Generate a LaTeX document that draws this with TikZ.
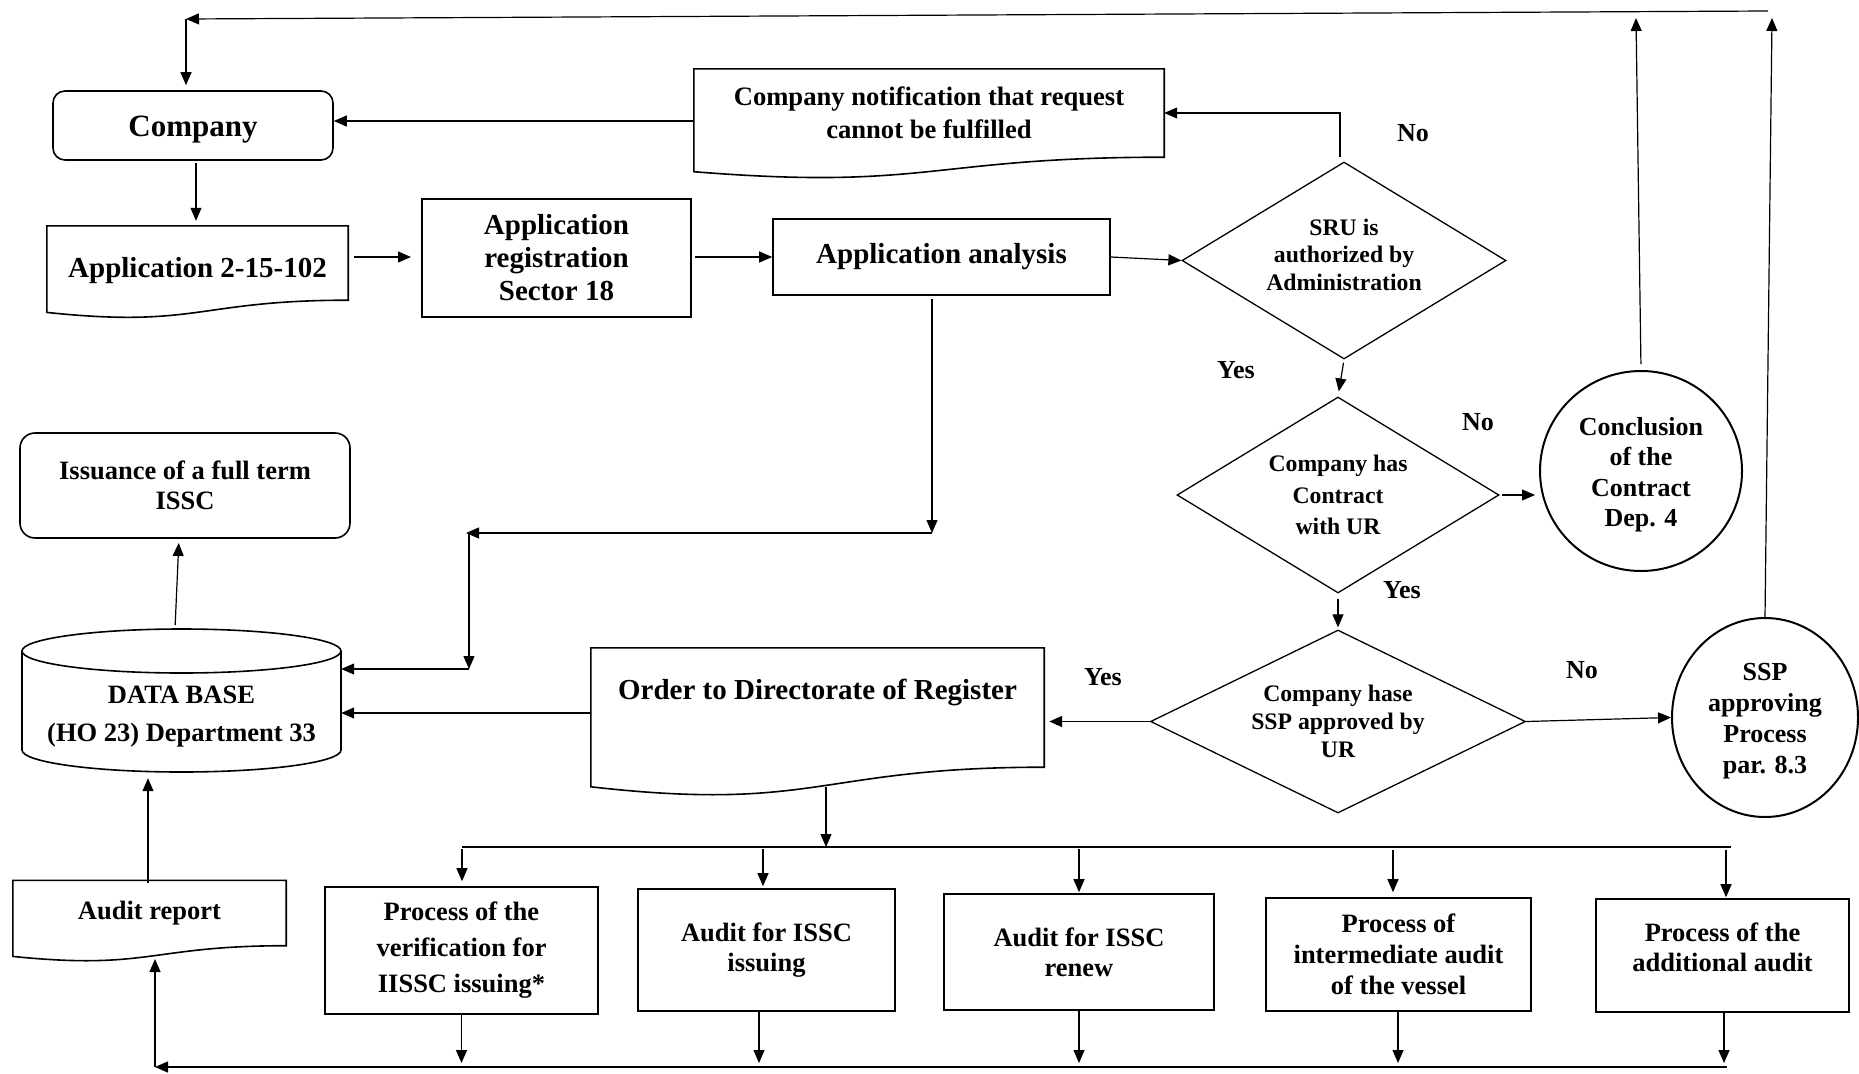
\documentclass[tikz,border=0pt]{standalone}
\usepackage{fontspec}
\setmainfont{Liberation Serif}
\usetikzlibrary{arrows.meta,shapes.geometric,calc}
\newcommand{\mydocshape}[3]{%
  \draw[box] (#1.south east) -- (#1.north east) -- (#1.north west) -- ($(#1.south west)+(0,#2)$)
    .. controls ($(#1.south)+(0,#3)$) and (#1.south) .. cycle;}
\newcommand{\mytl}[2]{\raisebox{#1}[\height][\depth]{\begin{tabular}{@{}c@{}}#2\end{tabular}}}
\tikzset{
  box/.style={draw, line width=1.6pt, inner sep=0pt, align=center},
  plain/.style={inner sep=0pt, align=center},
  dia/.style={draw, diamond, line width=1.3pt, inner sep=0pt, align=center},
  circ/.style={draw, ellipse, line width=2pt, inner sep=0pt, align=center},
  conn/.style={line width=1.2pt},
  arr/.style={conn, -{Triangle[length=13pt,width=11pt]}},
  fA/.style={font=\fontsize{31}{36}\selectfont\bfseries},
  fB/.style={font=\fontsize{29}{33}\selectfont\bfseries},
  fC/.style={font=\fontsize{26.5}{30}\selectfont\bfseries},
  lab/.style={font=\fontsize{26}{30}\selectfont\bfseries, inner sep=0pt},
}
\begin{document}
\begin{tikzpicture}[x=1pt,y=-1pt]
\useasboundingbox (0,0) rectangle (1859,1073);

% ---- nodes ----
\node[box, fA, rounded corners=12pt, minimum width=280pt, minimum height=69pt] (company) at (193,125.5) {\mytl{-3.5pt}{Company}};
\node[plain, fB, minimum width=301pt, minimum height=74pt] (app) at (197.5,263) {\mytl{-8pt}{Application 2-15-102}};
\mydocshape{app}{12.2}{28.2}
\node[box, fB, minimum width=269pt, minimum height=118pt] (reg) at (556.5,258) {Application\\registration\\Sector 18};
\node[box, fB, minimum width=337pt, minimum height=76pt] (ana) at (941.5,257) {Application analysis};
\node[plain, font=\fontsize{26.6}{33}\selectfont\bfseries, minimum width=470pt, minimum height=88pt] (notif) at (929,113) {Company notification that request\\cannot be fulfilled};
\mydocshape{notif}{14.5}{33.5}

\node[dia, font=\fontsize{23.7}{27.5}\selectfont\bfseries, aspect=1.64, minimum width=324pt, minimum height=197pt] (sru) at (1344,260.5) {\mytl{3.5pt}{SRU is\\authorized by\\Administration}};
\node[dia, font=\fontsize{23.7}{31.5}\selectfont\bfseries, aspect=1.64, minimum width=322pt, minimum height=196pt] (contract) at (1338,495) {Company has\\Contract\\with UR};
\node[dia, font=\fontsize{23.7}{28}\selectfont\bfseries, aspect=2.05, minimum width=375pt, minimum height=183pt] (ssp) at (1338,721.5) {Company hase\\SSP approved by\\UR};

\node[circ, font=\fontsize{26}{30.5}\selectfont\bfseries, minimum width=202pt, minimum height=200pt] (concl) at (1641,471) {\mytl{-4pt}{Conclusion\\of the\\Contract\\Dep. 4}};
\node[circ, font=\fontsize{26}{31}\selectfont\bfseries, minimum width=186pt, minimum height=199pt] (sspc) at (1765,717.5) {\mytl{-3.5pt}{SSP\\approving\\Process\\par. 8.3}};

\node[box, fC, rounded corners=15pt, minimum width=330pt, minimum height=105pt] (issue) at (185,485.5) {Issuance of a full term\\ISSC};

% data base cylinder
\node[plain, minimum width=319pt, minimum height=143pt] (db) at (181.5,700.5) {};
\draw[box] (22,651) -- (22,750) arc[start angle=180, end angle=360, x radius=159.5pt, y radius=22pt] -- (341,651);
\draw[box] (181.5,651) ellipse [x radius=159.5pt, y radius=22pt];
\node[plain, fC] (dbtxt) at (181.5,717) {DATA BASE\\[8pt](HO 23) Department 33};

\node[plain, minimum width=453pt, minimum height=119pt] (order) at (817.5,707.5) {};
\mydocshape{order}{19.6}{45.3}
\node[plain, fB] (ordertxt) at (817.5,692) {Order to Directorate of Register};

\node[plain, fC, minimum width=273pt, minimum height=65pt] (audit) at (149.5,913) {Audit report};
\mydocshape{audit}{10.7}{24.7}

\node[box, font=\fontsize{26.5}{36}\selectfont\bfseries, minimum width=273pt, minimum height=127pt] (b1) at (461.5,950.5) {Process of the\\verification for\\IISSC issuing*};
\node[box, fC, minimum width=257pt, minimum height=122pt] (b2) at (766.5,950) {Audit for ISSC\\issuing};
\node[box, fC, minimum width=270pt, minimum height=116pt] (b3) at (1079,952) {Audit for ISSC\\renew};
\node[box, font=\fontsize{26.5}{31}\selectfont\bfseries, minimum width=265pt, minimum height=113pt] (b4) at (1398.5,954.5) {Process of\\intermediate audit\\of the vessel};
\node[box, fC, minimum width=253pt, minimum height=113pt] (b5) at (1722.5,955.5) {\mytl{5pt}{Process of the\\additional audit}};

% ---- labels ----
\node[lab] (no1) at (1413,133) {No};
\node[lab] (yes1) at (1236,370) {Yes};
\node[lab] (no2) at (1478,422) {No};
\node[lab] (yes2) at (1402,590) {Yes};
\node[lab] (no3) at (1582,670) {No};
\node[lab] (yes3) at (1103,677) {Yes};

% ---- coordinates ----
\coordinate (topR) at (1768,11);
\coordinate (topL) at (186,19);
\coordinate (conclT) at (1636,18);
\coordinate (sspcT) at (1772,18);
\coordinate (c1) at (932,533);
\coordinate (c2) at (469,533);
\coordinate (c2a) at (466,533);
\coordinate (c3) at (469,669);
\coordinate (orderb) at (826,787);
\coordinate (busc) at (826,847);
\coordinate (busL) at (462,847);
\coordinate (busR) at (1731,847);
\coordinate (bus2L) at (155,1067);
\coordinate (bus2R) at (1727,1067);
\coordinate (auditb) at (155,959);
\coordinate (ca) at (196,160);
\coordinate (appA) at (348,257);
\coordinate (regA) at (422,257);
\coordinate (regB) at (691,257);
\coordinate (notifA) at (694,121);
\coordinate (sruA) at (1340,162);
\coordinate (orderA) at (591,713);
\coordinate (dbA) at (175,629);
\coordinate (issueA) at (179,538);
\coordinate (auditA) at (148,883);
\coordinate (b2T) at (763,847);
\coordinate (b4T) at (1393,847);
\coordinate (b5T) at (1726,847);
\coordinate (b2B) at (759,1011);
\coordinate (b4B) at (1398,1011);
\coordinate (b5B) at (1724,1012);

% ---- connectors ----
\draw[arr] (topR) -- (topL);
\draw[arr, shorten >=5pt] (topL) -- (topL |- company.north);
\draw[arr, shorten <=3pt, shorten >=5pt] (ca) -- (ca |- app.north);
\draw[arr, shorten <=6pt, shorten >=11pt] (appA) -- (regA);
\draw[arr, shorten <=4pt] (regB) -- (ana.west);
\draw[arr] (ana.east) -- (sru.west);
\draw[arr] (notifA) -- (notifA -| company.east);
\draw[arr, shorten <=5pt] (sruA) |- (notif.east);
\draw[arr, shorten <=3pt, shorten >=5pt] (sru.south) -- (contract.north);
\draw[arr, shorten <=2pt, shorten >=4pt] (contract.east) -- (contract.east -| concl.west);
\draw[arr, shorten <=5pt, shorten >=2pt] (contract.south) -- (ssp.north);
\draw[arr] (ssp.east) -- (sspc.west);
\draw[arr, shorten >=5pt] (ssp.west) -- (ssp.west -| order.east);
\draw[arr, shorten <=6pt] (concl.north) -- (conclT);
\draw[arr] (sspc.north) -- (sspcT);

\draw[arr, shorten <=3pt] (ana.south -| c1) -- (c1);
\draw[arr] (c1) -- (c2a);
\draw[arr] (c2) -- (c3);
\draw[arr] (c3) -- (db.east |- c3);
\draw[arr] (orderA) -- (orderA -| db.east);
\draw[arr, shorten <=4pt, shorten >=5pt] (dbA) -- (issueA);
\draw[arr, shorten >=6pt] (auditA) -- (auditA |- db.south);

\draw[arr] (orderb) -- (busc);
\draw[conn] (busL) -- (busR);
\draw[arr, shorten <=2pt, shorten >=5pt] (busL) -- (busL |- b1.north);
\draw[arr, shorten <=2pt, shorten >=2pt] (b2T) -- (b2T |- b2.north);
\draw[arr, shorten <=2pt, shorten >=1pt] (b3.north |- busc) -- (b3.north);
\draw[arr, shorten <=3pt, shorten >=5pt] (b4T) -- (b4T |- b4.north);
\draw[arr, shorten <=3pt, shorten >=1pt] (b5T) -- (b5T |- b5.north);

\draw[arr, shorten >=4pt] (b1.south) -- (b1.south |- bus2L);
\draw[arr, shorten >=4pt] (b2B) -- (b2B |- bus2L);
\draw[arr, shorten >=4pt] (b3.south) -- (b3.south |- bus2L);
\draw[arr, shorten >=4pt] (b4B) -- (b4B |- bus2L);
\draw[arr, shorten >=4pt] (b5B) -- (b5B |- bus2L);
\draw[arr] (bus2R) -- (bus2L);
\draw[arr] (bus2L) -- (auditb);
\end{tikzpicture}
\end{document}
